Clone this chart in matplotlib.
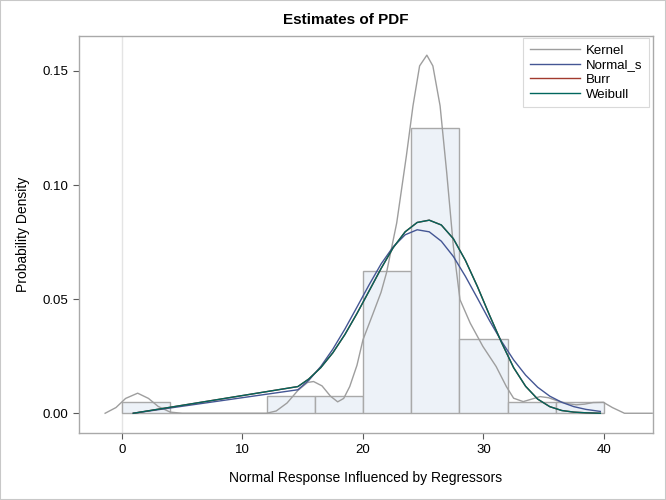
import numpy as np
import matplotlib.pyplot as plt

plt.rcParams['font.family'] = ['Liberation Sans', 'DejaVu Sans']

# histogram (bin width 4)
bin_left = [0, 4, 8, 12, 16, 20, 24, 28, 32, 36]
bin_height = [0.005, 0.0, 0.0, 0.0075, 0.0075, 0.0625, 0.125, 0.0325, 0.005, 0.005]

# kernel density estimate
kern_x = [-1.4, -0.5, 0.3, 1.3, 2.2, 3.0, 4.0, 5.0, 12.0, 12.8, 13.7, 14.6, 15.4, 15.9,
          16.6, 17.3, 17.9, 18.4, 18.9, 19.5, 20.0, 20.85, 21.5, 21.95, 22.8, 23.6,
          24.15, 24.7, 25.3, 25.8, 26.4, 26.95, 27.5, 28.05, 28.9, 29.95, 31.05, 31.9,
          32.5, 33.3, 34.0, 34.7, 35.4, 36.1, 37.0, 37.7, 38.4, 39.1, 39.95, 40.7, 41.7, 44.0]
kern_y = [0.0, 0.0025, 0.0065, 0.0088, 0.0065, 0.0030, 0.0005, 0.0, 0.0, 0.0010, 0.0045,
          0.0100, 0.0135, 0.0139, 0.0120, 0.0075, 0.0050, 0.0065, 0.0117, 0.0210, 0.0322,
          0.0439, 0.0530, 0.0615, 0.0834, 0.1127, 0.1347, 0.1522, 0.1569, 0.1522, 0.1347,
          0.1054, 0.0732, 0.0498, 0.0395, 0.0293, 0.0205, 0.0117, 0.0066, 0.0051, 0.0062,
          0.0073, 0.0068, 0.0055, 0.0042, 0.0037, 0.0040, 0.0047, 0.0048, 0.0025, 0.0, 0.0]

# fitted densities (evaluated at sorted responses)
fit_x = [0.94, 14.6, 15.5, 16.5, 17.5, 18.5, 19.5, 20.5, 21.5, 22.5, 23.5, 24.5, 25.5,
         26.5, 27.5, 28.5, 29.5, 30.5, 31.5, 32.5, 33.5, 34.5, 35.5, 36.5, 37.5, 38.5, 39.7]
normal_y = [0.0, 0.0103, 0.0144, 0.0205, 0.0281, 0.0369, 0.0465, 0.0562, 0.0654, 0.0729,
            0.0782, 0.0804, 0.0795, 0.0754, 0.0687, 0.0600, 0.0504, 0.0406, 0.0315, 0.0234,
            0.0167, 0.0114, 0.0075, 0.0048, 0.0029, 0.0017, 0.0008]
weibull_y = [0.0, 0.0117, 0.0150, 0.0200, 0.0265, 0.0345, 0.0437, 0.0535, 0.0634, 0.0725,
             0.0795, 0.0836, 0.0846, 0.0825, 0.0765, 0.0670, 0.0555, 0.0430, 0.0310, 0.0200,
             0.0118, 0.0062, 0.0029, 0.0012, 0.0005, 0.0002, 0.0]
burr_y = list(weibull_y)

fig = plt.figure(figsize=(6.66, 5.0), dpi=100)
ax = fig.add_axes([79/666, 1-433/500, (653-79)/666, (433-36)/500])

ax.axvline(0, color='#e4e4e4', lw=1.0, zorder=0)
ax.bar(bin_left, bin_height, width=4, align='edge', color='#edf2f8',
       edgecolor='#a9a9a9', linewidth=1.0, zorder=1)

ax.plot(kern_x, kern_y, color='#9e9e9e', lw=1.0, label='Kernel', zorder=2)
ax.plot(fit_x, normal_y, color='#445694', lw=1.0, label='Normal_s', zorder=3)
ax.plot(fit_x, burr_y, color='#a23a2e', lw=1.0, label='Burr', zorder=3)
ax.plot(fit_x, weibull_y, color='#01665e', lw=1.0, label='Weibull', zorder=4)

ax.set_xlim(-3.568, 44.07)
ax.set_ylim(-0.00865, 0.1653)
ax.set_xticks([0, 10, 20, 30, 40])
ax.set_yticks([0.0, 0.05, 0.10, 0.15])
ax.set_yticklabels(['0.00', '0.05', '0.10', '0.15'])
ax.tick_params(colors='#5a5a5a', labelcolor='black', labelsize=9.5, length=4.5, width=0.8)
for s in ax.spines.values():
    s.set_color('#a9a9a9')
    s.set_linewidth(1.0)

fig.text(346/666, 1 - 20/500, 'Estimates of PDF', fontsize=11, fontweight='bold',
         ha='center', va='center')
ax.set_xlabel('Normal Response Influenced by Regressors', fontsize=10, labelpad=11)
ax.set_ylabel('Probability Density', fontsize=10, labelpad=9)

leg = ax.legend(loc='upper right', bbox_to_anchor=((649 - 79) / 574, (433 - 38) / 397),
                bbox_transform=ax.transAxes, fontsize=9.5, frameon=True, fancybox=False,
                borderaxespad=0.0, handlelength=3.8, handletextpad=0.45, labelspacing=0.18,
                borderpad=0.5)
leg.get_frame().set_edgecolor('#d0d0d0')
leg.get_frame().set_linewidth(0.8)

fig.patches.append(plt.Rectangle((0, 0), 1, 1, transform=fig.transFigure,
                                 fill=False, edgecolor='#c8c8c8', lw=1.5))

fig.savefig('out.png', dpi=100)
